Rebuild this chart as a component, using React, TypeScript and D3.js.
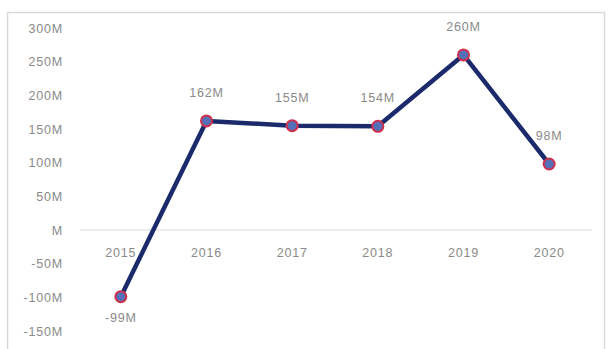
import { useEffect, useRef } from "react";
import * as d3 from "d3";

const years = ["2015", "2016", "2017", "2018", "2019", "2020"];
const values = [-99, 162, 155, 154, 260, 98];
const valueLabels = ["-99M", "162M", "155M", "154M", "260M", "98M"];
const yTicks = [-150, -100, -50, 0, 50, 100, 150, 200, 250, 300];

const W = 608, H = 349;

export default function App() {
  const ref = useRef<SVGSVGElement | null>(null);

  useEffect(() => {
    const svg = d3.select(ref.current);
    svg.selectAll("*").remove();

    const x = d3.scaleBand<string>().domain(years).range([78, 592]);
    const y = d3.scaleLinear().domain([-150, 300]).range([331, 28]);

    svg.append("rect").attr("width", W).attr("height", H).attr("fill", "white");
    svg.append("rect")
      .attr("x", 7.5).attr("y", 12.5)
      .attr("width", 597).attr("height", 345)
      .attr("fill", "none")
      .attr("stroke", "#d9d9d9")
      .attr("stroke-width", 1.5);

    const font = "'Liberation Sans', Arial, sans-serif";
    const gray = "#8a8a8a";

    const ay = d3.axisLeft(y).tickValues(yTicks).tickSize(0)
      .tickFormat(d => (+d === 0 ? "M" : `${d}M`));
    svg.append("g")
      .attr("transform", `translate(63,0)`)
      .call(ay as any)
      .call((g: any) => g.select(".domain").remove())
      .call((g: any) => g.selectAll("text")
        .attr("fill", gray).attr("font-size", 12.5).attr("letter-spacing", 0.8)
        .attr("font-family", font).attr("x", 0));

    // zero line
    svg.append("line")
      .attr("x1", 80).attr("x2", 592)
      .attr("y1", y(0)).attr("y2", y(0))
      .attr("stroke", "#d9d9d9").attr("stroke-width", 1.2);

    const ax = d3.axisBottom(x).tickSize(0);
    svg.append("g")
      .attr("transform", `translate(0,${y(0) + 23})`)
      .call(ax as any)
      .call((g: any) => g.select(".domain").remove())
      .call((g: any) => g.selectAll("text")
        .attr("fill", gray).attr("font-size", 12.5).attr("letter-spacing", 0.8)
        .attr("font-family", font).attr("dy", "0.32em").attr("y", 0));

    const cx = (i: number) => (x(years[i]) ?? 0) + x.bandwidth() / 2;

    const line = d3.line<number>()
      .x((_, i) => cx(i))
      .y(d => y(d));

    svg.append("path")
      .datum(values)
      .attr("d", line)
      .attr("fill", "none")
      .attr("stroke", "#1b2a6b")
      .attr("stroke-width", 4.5)
      .attr("stroke-linejoin", "round");

    svg.selectAll("circle.pt")
      .data(values)
      .enter()
      .append("circle")
      .attr("class", "pt")
      .attr("cx", (_, i) => cx(i))
      .attr("cy", d => y(d))
      .attr("r", 5.5)
      .attr("fill", "#5570b8")
      .attr("stroke", "#d0304c")
      .attr("stroke-width", 2);

    svg.selectAll("text.lbl")
      .data(values)
      .enter()
      .append("text")
      .attr("class", "lbl")
      .attr("x", (_, i) => cx(i))
      .attr("y", d => (d < 0 ? y(d) + 25 : y(d) - 24))
      .attr("text-anchor", "middle")
      .attr("fill", gray)
      .attr("font-size", 12.5)
      .attr("letter-spacing", 0.8)
      .attr("font-family", font)
      .text((_, i) => valueLabels[i]);
  }, []);

  return (
    <svg
      ref={ref}
      width={W}
      height={H}
      style={{ position: "fixed", left: 0, top: 0, display: "block" }}
    />
  );
}
